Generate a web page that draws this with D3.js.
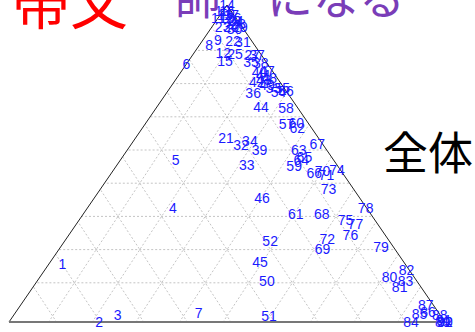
<!DOCTYPE html>
<html>
<head>
<meta charset="utf-8">
<script src="https://cdn.jsdelivr.net/npm/d3@7"></script>
<style>
  html, body { margin: 0; padding: 0; background: #fff; overflow: hidden; }
  svg { display: block; }
</style>
</head>
<body>
<svg id="chart" width="475" height="332"></svg>
<script>
// Corner labels of the ternary diagram
const cornerLeft = "帯文";
const cornerTop = "師　になる";
const cornerRight = "全体";

// Point ids
const ids = [
  1,2,3,4,5,6,7,8,9,10,11,12,13,14,15,16,17,18,19,20,
  21,22,23,24,25,26,27,28,29,30,31,32,33,34,35,36,37,38,39,40,
  41,42,43,44,45,46,47,48,49,50,51,52,53,54,55,56,57,58,59,60,
  61,62,63,64,65,66,67,68,69,70,71,72,73,74,75,76,77,78,79,80,
  81,82,83,84,85,86,87,88,89,90,91,92
];

// Shares (%) of each point for the three components
const shareTop = [
  18.3,0,2.2,36.0,51.1,81.4,2.8,87.4,89.0,98,96,84.9,97,100,82.3,98,97,95,96,93,
  58.0,88.6,93,95,84.5,96,84.2,94,93,92.5,88.3,55.8,49.5,57.1,82.0,72.2,84.2,81.7,54.3,78.9,
  77.9,75.7,76.3,67.8,18.9,39.1,79.2,77.0,74.8,12.9,1.9,25.6,73.8,72.6,73.8,72.9,62.5,67.5,49.2,62.8,
  34.1,61.2,54.3,51.1,52.1,47.0,56.2,34.1,23.0,47.6,46.4,26.2,42.0,47.9,32.2,27.4,30.9,36.0,23.7,14.2,
  11.0,16.4,12.9,0,2.5,3.2,5.4,2.2,0,0,0.5,0
];
const shareRight = [
  3.1,20.7,23.8,19.6,12.7,0,42.1,2.2,3.4,0,0,6.7,1,0,8.4,1,2.5,4,2,4.5,
  20.8,7.1,2.5,4.5,9.6,3.5,13.7,5.5,6.5,5.5,9.5,25.3,29.8,26.7,14.5,19.9,14.8,16.9,30.3,18.0,
  19.5,19.0,20.3,23.9,48.1,38.5,19.6,21.2,21.8,52.7,58.7,47.1,23.7,25.5,25.8,27.1,32.4,29.8,40.8,34.5,
  48.7,35.5,39.3,41.5,41.7,46.5,42.6,54.7,60.4,48.1,49.6,59.9,52.3,51.3,61.1,64.6,64.0,63.8,73.5,80.2,
  84.1,83.0,84.5,92.2,92.9,94.5,92.9,97.7,99.5,100,99.5,100
];
const shareLeft = [
  78.6,79.3,74.0,44.4,36.2,18.6,55.1,10.4,7.6,2,4,8.4,2,0,9.3,1,0.5,1,2,2.5,
  21.2,4.3,4.5,0.5,5.9,0.5,2.1,0.5,0.5,2,2.2,18.9,20.7,16.2,3.5,7.9,1.0,1.4,15.4,3.1,
  2.6,5.3,3.4,8.3,33.0,22.4,1.2,1.8,3.4,34.4,39.4,27.3,2.5,1.9,0.4,0,5.1,2.7,10.0,2.7,
  17.2,3.3,6.4,7.4,6.2,6.5,1.2,11.2,16.6,4.3,4.0,13.9,5.7,0.8,6.7,8.0,5.1,0.2,2.8,5.6,
  4.9,0.6,2.6,7.8,4.6,2.3,1.7,0.1,0.5,0,0,0
];

const gridSteps = d3.range(1, 10).map(k => k / 10);

const svg = d3.select("#chart");

// Triangle frame: bottom-left corner, base width and height in pixels
const baseLeft = 9, baseWidth = 436, baseY = 322, triHeight = 317;

// x runs along the base, y runs up to the apex
const xScale = d3.scaleLinear().domain([0, 1]).range([baseLeft, baseLeft + baseWidth]);
const yScale = d3.scaleLinear().domain([0, 1]).range([baseY, baseY - triHeight]);

function project(l, t, r) {
  const s = l + t + r;
  const tt = t / s, rr = r / s;
  return [xScale(rr + tt / 2), yScale(tt)];
}

// The guide lattice uses its own, taller vertical scale and is clipped to the frame
const gridY = d3.scaleLinear().domain([0, 1]).range([316, -16]);
function gridPoint(t, r) {
  return [xScale(r + t / 2), gridY(t)];
}

const pL = project(1, 0, 0), pT = project(0, 1, 0), pR = project(0, 0, 1);

svg.append("clipPath").attr("id", "frame-clip")
  .append("path")
  .attr("d", d3.line()([pL, pT, pR]) + "Z");

const ext = 0.15;
const gridLines = [];
gridSteps.forEach(v => {
  gridLines.push([gridPoint(v, -ext), gridPoint(v, 1 - v + ext)]);          // constant top share
  gridLines.push([gridPoint(-ext, v), gridPoint(1 - v, v)]);                // constant right share
  gridLines.push([gridPoint(-ext, 1 - v + ext), gridPoint(1 - v, 0)]);      // constant left share
});
svg.append("g")
  .attr("clip-path", "url(#frame-clip)")
  .selectAll("line")
  .data(gridLines)
  .join("line")
  .attr("x1", d => d[0][0]).attr("y1", d => d[0][1])
  .attr("x2", d => d[1][0]).attr("y2", d => d[1][1])
  .attr("stroke", "#c4c4c4")
  .attr("stroke-width", 1)
  .attr("stroke-dasharray", "2,2");

// Frame
svg.append("path")
  .attr("d", d3.line()([pR, pT, pL]))
  .attr("fill", "none")
  .attr("stroke", "#222")
  .attr("stroke-width", 1);
svg.append("line")
  .attr("x1", pL[0]).attr("y1", pL[1])
  .attr("x2", pR[0]).attr("y2", pR[1])
  .attr("stroke", "#777")
  .attr("stroke-width", 2);

// Point labels
const points = ids.map((id, i) => ({ id, pos: project(shareLeft[i], shareTop[i], shareRight[i]) }));
svg.append("g")
  .selectAll("text")
  .data(points)
  .join("text")
  .attr("x", d => d.pos[0])
  .attr("y", d => d.pos[1])
  .attr("dy", "0.36em")
  .attr("text-anchor", "middle")
  .attr("font-family", "Liberation Sans, Arial, sans-serif")
  .attr("font-size", 14)
  .attr("fill", "#1a1aff")
  .text(d => d.id);

// Corner titles
const cjk = "'Noto Sans CJK JP', 'Noto Sans CJK SC', sans-serif";
svg.append("text")
  .attr("x", 12).attr("y", 24)
  .attr("font-family", cjk).attr("font-size", 58)
  .attr("fill", "#ff0000")
  .text(cornerLeft);
svg.append("text")
  .attr("x", 175).attr("y", 14)
  .attr("font-family", cjk).attr("font-size", 46)
  .attr("fill", "#7a3db8")
  .text(cornerTop);
svg.append("text")
  .attr("x", 383).attr("y", 170)
  .attr("font-family", cjk).attr("font-size", 45)
  .attr("fill", "#000")
  .text(cornerRight);
</script>
</body>
</html>
